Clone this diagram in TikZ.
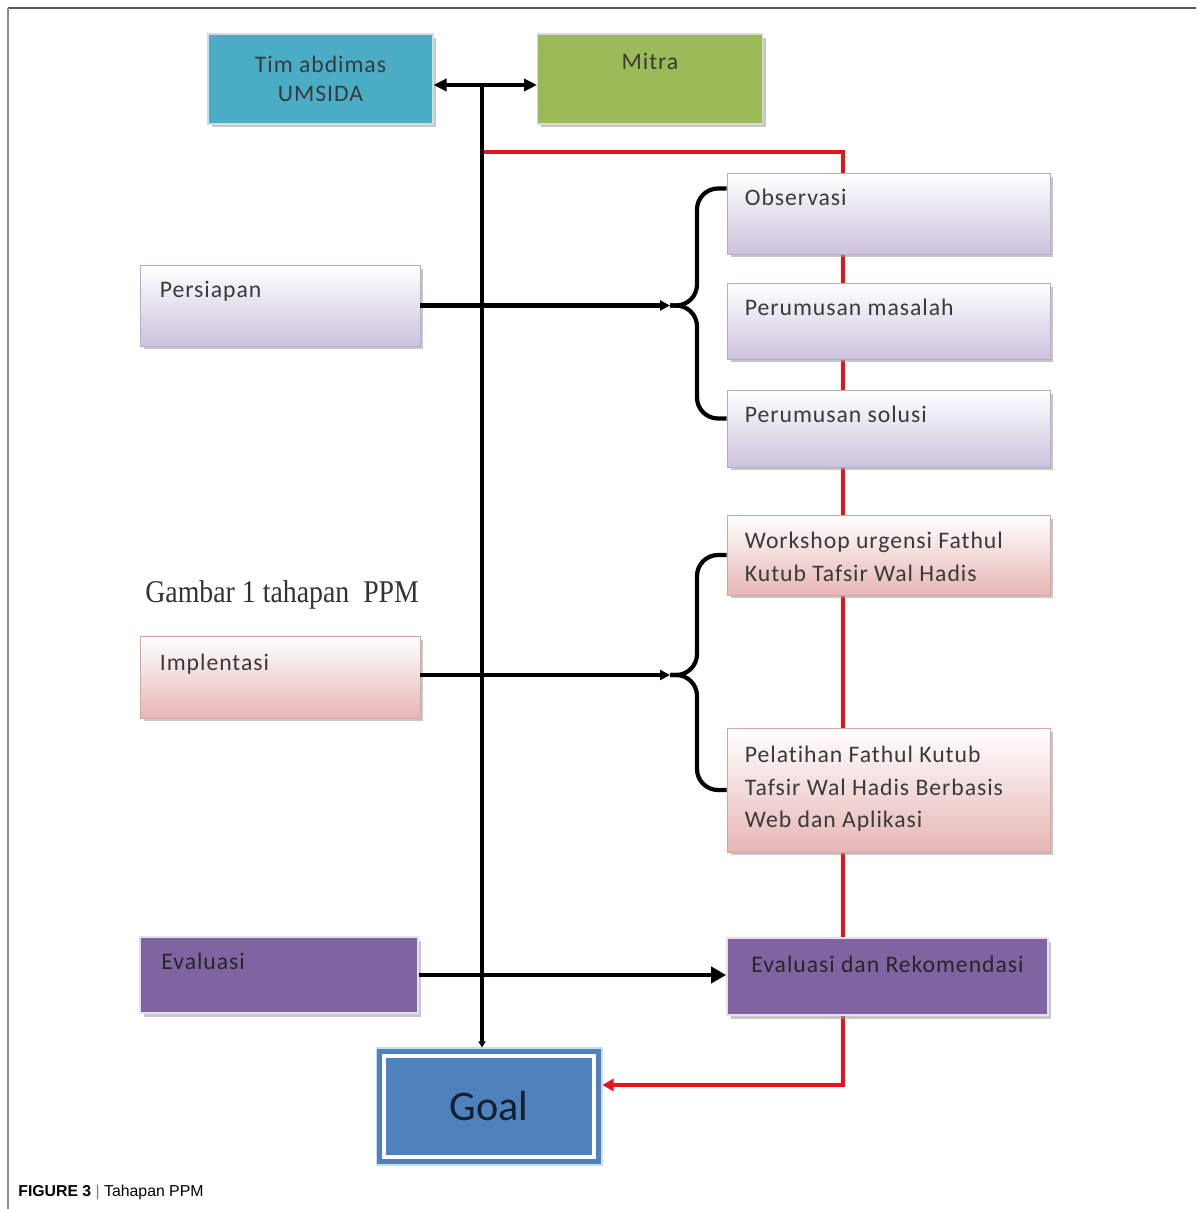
\documentclass[tikz,border=0pt]{standalone}
\usepackage{fontspec}
\setmainfont{Carlito}
\newfontfamily\boxfont[LetterSpace=4,Ligatures=NoCommon]{Carlito}
\newfontfamily\gambarfont[FakeStretch=0.88]{Liberation Serif}
\newfontfamily\capfont{Liberation Sans}
\usepackage{tikz}
\usetikzlibrary{positioning,shadows,arrows.meta}

\definecolor{timblue}{HTML}{4BACC6}
\definecolor{mitragreen}{HTML}{9BBB59}
\definecolor{lavfill}{HTML}{CDC2DD}
\definecolor{lavline}{HTML}{B9AACB}
\definecolor{pinkfill}{HTML}{E6B6B5}
\definecolor{pinkline}{HTML}{D9A3A2}
\definecolor{evalpurple}{HTML}{8064A2}
\definecolor{goalblue}{HTML}{4F81BD}
\definecolor{goalglow}{HTML}{C9DDF0}
\definecolor{linered}{HTML}{E8141B}
\definecolor{textgray}{HTML}{3A3A3A}
\definecolor{framegray}{HTML}{5A5A5A}

\tikzset{
  box/.style={rectangle, inner sep=0pt,
    drop shadow={shadow xshift=0.07cm, shadow yshift=-0.07cm, fill=black!40, opacity=0.55}},
  topbox/.style={box, draw=white!85!black, line width=0.6pt, minimum width=4.5cm, minimum height=1.8cm,
    align=center, text=textgray, font=\boxfont\fontsize{13.5}{16.5}\selectfont},
  lavbox/.style={box, draw=lavline, line width=0.5pt, top color=white, bottom color=lavfill, minimum width=6.46cm},
  pinkbox/.style={box, draw=pinkline, line width=0.5pt, top color=white, bottom color=pinkfill, minimum width=6.46cm},
  purplebox/.style={box, draw=white!80!evalpurple, line width=1pt, fill=evalpurple},
  boxtext/.style={inner sep=0pt, align=left, text=textgray, font=\boxfont\fontsize{13.5}{18.5}\selectfont},
  goalbox/.style={rectangle, fill=goalblue, draw=goalglow, line width=0.6pt, minimum width=4.52cm,
    minimum height=2.34cm, text=black!75!goalblue, font=\fontsize{24}{28}\selectfont},
  blackline/.style={line width=2.4pt, black},
  redline/.style={line width=2.4pt, linered},
}

\begin{document}
\begin{tikzpicture}[x=0.02cm, y=-0.02cm]
\useasboundingbox (0,0) rectangle (1196,1209);
% frame
\draw[framegray, line width=1.1pt] (8,8) -- (1196,8);
\draw[black!45, line width=0.8pt] (8,8) -- (8,1209);

% goal
\node[goalbox] (goal) at (489,1106.5) {Goal};
\draw[white, line width=0.07cm] ([shift={(0.17cm,-0.17cm)}]goal.north west) rectangle ([shift={(-0.17cm,0.17cm)}]goal.south east);

% red line behind the boxes
\coordinate (hub) at (482,85);
\coordinate (redstart) at (482,152);
\coordinate (redturn) at (843,1085);
\draw[redline, -{Triangle[length=0.22cm,width=0.24cm]}] (redstart) -| (redturn) -- (goal.east |- redturn);

% black spine
\draw[blackline, -{Triangle[length=0.12cm,width=0.14cm]}] (hub) -- (hub |- goal.north);

% top
\node[topbox, fill=timblue] (tim) at (320.5,79) {Tim abdimas\\UMSIDA};
\node[topbox, fill=mitragreen] (mitra) at (650,79) {};
\node[boxtext, below=0.38cm of mitra.north] (mitra-t) {Mitra};
\draw[blackline, {Triangle[length=0.26cm,width=0.24cm]}-{Triangle[length=0.26cm,width=0.24cm]}] (tim.east |- hub) -- (mitra.west |- hub);

% persiapan
\foreach \n/\y/\h/\t in {obs/213.5/1.62/Observasi, mas/321/1.52/Perumusan masalah, sol/428.5/1.54/Perumusan solusi} {
\node[lavbox, minimum height=\h cm] (\n) at (888.5,\y) {};
\node[boxtext, below right=0.33cm and 0.36cm of \n.north west] (\n-t) {\t};
}
\node[lavbox, minimum width=5.6cm, minimum height=1.62cm] (pers) at (280,305.5) {};
\node[boxtext, below right=0.33cm and 0.4cm of pers.north west] (pers-t) {Persiapan};
\coordinate (tip1) at (670,305.5);
\draw[blackline, -{Triangle[length=0.2cm,width=0.2cm]}] (pers.east) -- (tip1);
\draw[blackline, rounded corners=0.42cm] ([yshift=0.5cm]obs.west) -| (697,305.5) -- (tip1);
\draw[blackline, rounded corners=0.42cm] ([yshift=0.2cm]sol.west) -| (697,305.5) -- (tip1);

% implementasi
\node[pinkbox, minimum height=1.6cm] (work) at (888.5,555) {};
\node[boxtext, below right=0.35cm and 0.36cm of work.north west] (work-t) {Workshop urgensi Fathul\\Kutub Tafsir Wal Hadis};
\node[pinkbox, minimum height=2.48cm] (pel) at (888.5,790) {};
\node[boxtext, below right=0.37cm and 0.36cm of pel.north west] (pel-t) {Pelatihan Fathul Kutub\\Tafsir Wal Hadis Berbasis\\Web dan Aplikasi};
\node[pinkbox, minimum width=5.6cm, minimum height=1.64cm] (impl) at (280,677) {};
\node[boxtext, below right=0.36cm and 0.4cm of impl.north west] (impl-t) {Implentasi};
\node[anchor=west, inner sep=0pt, text=black!80, font=\gambarfont\fontsize{18}{20}\selectfont] (gambar) at (145,595) {Gambar 1 tahapan~ PPM};
\coordinate (tip2) at (670,675);
\draw[blackline, -{Triangle[length=0.2cm,width=0.2cm]}] (impl.east |- tip2) -- (tip2);
\draw[blackline, rounded corners=0.42cm] (work.west) -| (697,675) -- (tip2);
\draw[blackline, rounded corners=0.42cm] (pel.west) -| (697,675) -- (tip2);

% evaluasi
\node[purplebox, minimum width=5.56cm, minimum height=1.52cm] (evl) at (279,975) {};
\node[boxtext, text=black!85, below right=0.34cm and 0.44cm of evl.north west] (evl-t) {Evaluasi};
\node[purplebox, minimum width=6.42cm, minimum height=1.54cm] (rek) at (887.5,976.5) {};
\node[boxtext, text=black!85, below=0.38cm of rek.north] (rek-t) {Evaluasi dan Rekomendasi};
\draw[blackline, -{Triangle[length=0.3cm,width=0.32cm]}] (evl.east) -- (evl.east -| rek.west);

% caption
\node[anchor=west, inner sep=0pt, font=\capfont\fontsize{9}{11}\selectfont] (cap) at (18,1192) {\textbf{FIGURE 3} \textcolor{black!50}{|} Tahapan PPM};
\end{tikzpicture}
\end{document}
